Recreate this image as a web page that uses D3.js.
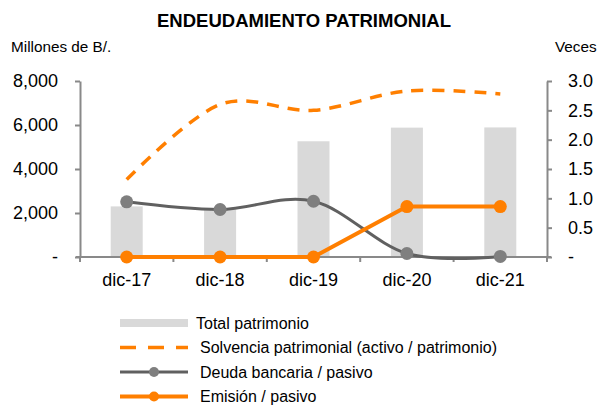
<!DOCTYPE html>
<html><head><meta charset="utf-8">
<script src="https://cdn.jsdelivr.net/npm/d3@7"></script>
<style>body{margin:0;background:#fff}svg{display:block;font-family:"Liberation Sans",Arial,sans-serif}</style>
</head><body><svg id="c" width="599" height="405"></svg>
<script>
const categories = ["dic-17","dic-18","dic-19","dic-20","dic-21"];
const totalPatrimonio = [2300, 2160, 5260, 5880, 5890];
const solvencia = [1.32, 2.6, 2.5, 2.83, 2.78];
const deudaBancaria = [0.94, 0.81, 0.95, 0.06, 0.01];
const emision = [0, 0, 0, 0.86, 0.86];
const leftTicks = [0, 2000, 4000, 6000, 8000];
const rightTicks = [0, 0.5, 1.0, 1.5, 2.0, 2.5, 3.0];
const legendLabels = ["Total patrimonio","Solvencia patrimonial (activo / patrimonio)","Deuda bancaria / pasivo","Emisión / pasivo"];

const svg = d3.select("#c");
const L = 80, R = 547, T = 81, B = 257;
const axisColor = "#898989", orange = "#ff7f00";
const FF = "Liberation Sans, Arial, sans-serif";
const x = d3.scaleBand().domain(categories).range([L, R]);
const yL = d3.scaleLinear().domain([0, 8000]).range([B, T]);
const yR = d3.scaleLinear().domain([0, 3]).range([B, T]);
const cx = d => x(d) + x.bandwidth()/2;

svg.append("text").attr("x", 304).attr("y", 27).attr("text-anchor","middle")
  .attr("font-weight","bold").attr("font-size",18.5).text("ENDEUDAMIENTO PATRIMONIAL");
svg.append("text").attr("x", 11).attr("y", 52).attr("font-size",15.3).text("Millones de B/.");
svg.append("text").attr("x", 555).attr("y", 52).attr("font-size",15.3).text("Veces");

// bars
svg.append("g").selectAll("rect").data(totalPatrimonio).join("rect")
  .attr("x",(d,i)=>cx(categories[i])-16).attr("width",32)
  .attr("y",d=>yL(d)).attr("height",d=>B-yL(d)).attr("fill","#d9d9d9");

// axes
const fmtL = d => d === 0 ? "-" : d3.format(",")(d);
const fmtR = d => d === 0 ? "-" : d3.format(".1f")(d);
const gL = svg.append("g").attr("transform",`translate(${L},0)`)
  .call(d3.axisLeft(yL).tickValues(leftTicks).tickFormat(fmtL).tickSize(5).tickSizeOuter(0).tickPadding(17));
const gR = svg.append("g").attr("transform",`translate(${R},0)`)
  .call(d3.axisRight(yR).tickValues(rightTicks).tickFormat(fmtR).tickSize(5).tickSizeOuter(0).tickPadding(16));
const gX = svg.append("g").attr("transform",`translate(0,${B})`)
  .call(d3.axisBottom(x).tickSize(0).tickPadding(23));
const bounds = categories.map(c=>x(c)).concat([R]);
gX.selectAll(".bt").data(bounds).join("line").attr("class","bt")
  .attr("x1",d=>d).attr("x2",d=>d).attr("y1",0).attr("y2",5).attr("stroke",axisColor).attr("stroke-width",2);
[gL,gR,gX].forEach(g=>{
  g.attr("font-family",FF);
  g.select(".domain").attr("stroke",axisColor).attr("stroke-width",2);
  g.selectAll(".tick line").attr("stroke",axisColor).attr("stroke-width",2);
  g.selectAll(".tick text").attr("fill","#000").attr("font-size",18);
});
gX.select(".domain").attr("d",`M${L-4},0H${R+4}`);
gX.selectAll(".tick text").attr("dy","0.32em");

// lines
const smooth = d3.line().curve(d3.curveCatmullRom.alpha(0));
svg.append("path").attr("d", smooth(solvencia.map((v,i)=>[cx(categories[i]), yR(v)])))
  .attr("fill","none").attr("stroke",orange).attr("stroke-width",3.5).attr("stroke-dasharray","12,9");
svg.append("path").attr("d", smooth(deudaBancaria.map((v,i)=>[cx(categories[i]), yR(v)])))
  .attr("fill","none").attr("stroke","#606060").attr("stroke-width",3);
svg.append("g").selectAll("circle").data(deudaBancaria).join("circle")
  .attr("cx",(d,i)=>cx(categories[i])).attr("cy",d=>yR(d)).attr("r",6.5).attr("fill","#7f7f7f");
const straight = d3.line();
svg.append("path").attr("d", straight(emision.map((v,i)=>[cx(categories[i]), yR(v)])))
  .attr("fill","none").attr("stroke",orange).attr("stroke-width",4);
svg.append("g").selectAll("circle").data(emision).join("circle")
  .attr("cx",(d,i)=>cx(categories[i])).attr("cy",d=>yR(d)).attr("r",6.5).attr("fill",orange);

// legend
const lg = svg.append("g");
const rows = [323, 347.5, 372, 396.5];
lg.append("rect").attr("x",120).attr("y",rows[0]-4).attr("width",68).attr("height",8).attr("fill","#d9d9d9");
lg.append("line").attr("x1",120).attr("x2",188).attr("y1",rows[1]).attr("y2",rows[1])
  .attr("stroke",orange).attr("stroke-width",3.5).attr("stroke-dasharray","16,12");
lg.append("line").attr("x1",120).attr("x2",188).attr("y1",rows[2]).attr("y2",rows[2])
  .attr("stroke","#606060").attr("stroke-width",3);
lg.append("circle").attr("cx",154).attr("cy",rows[2]).attr("r",5).attr("fill","#7f7f7f");
lg.append("line").attr("x1",120).attr("x2",188).attr("y1",rows[3]).attr("y2",rows[3])
  .attr("stroke",orange).attr("stroke-width",4);
lg.append("circle").attr("cx",154).attr("cy",rows[3]).attr("r",5).attr("fill",orange);
legendLabels.forEach((t,i)=>{
  lg.append("text").attr("x", i===0?196:200).attr("y",rows[i]).attr("dy","0.35em")
    .attr("font-size",16).text(t);
});
</script></body></html>
